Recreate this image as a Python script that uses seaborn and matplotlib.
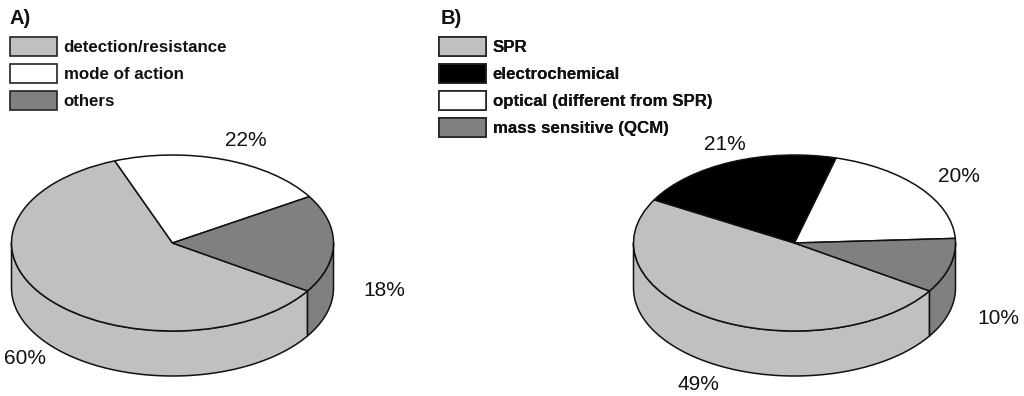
import numpy as np
import matplotlib
matplotlib.use("Agg")
import matplotlib.pyplot as plt
from matplotlib.patches import Patch
import seaborn as sns

labels_a = ["detection/resistance", "mode of action", "others"]
values_a = [60, 22, 18]
labels_b = ["SPR", "electrochemical", "optical (different from SPR)", "mass sensitive (QCM)"]
values_b = [49, 21, 20, 10]

LIGHT, DARK, BLACK, WHITE = "#c0c0c0", "#808080", "#000000", "#ffffff"
colors_a = sns.color_palette([LIGHT, WHITE, DARK])
colors_b = sns.color_palette([LIGHT, BLACK, WHITE, DARK])

W, H = 1024, 396
RY, DEPTH = 88, 45

sns.set_theme(style="white")
plt.rcParams["font.family"] = ["Liberation Sans", "DejaVu Sans"]


def pie3d(left, values, colors, start=-33):
    # pie box in pixels: rx 161, top face 155-331, wall down to 376
    ax = fig.add_axes([left / W, 1 - 376 / H, 322 / W, 221 / H])
    depth = DEPTH / RY
    a0 = start
    for v, c in zip(values, colors):
        a1 = a0 - 3.6 * v
        for off in (0, -360):
            lo, hi = max(a1, off - 180), min(a0, off)
            if hi <= lo:
                continue
            t = np.radians(np.linspace(lo, hi, 80))
            x, y = np.cos(t), np.sin(t)
            ax.fill(np.r_[x, x[::-1]], np.r_[y, y[::-1] - depth], facecolor=c,
                    edgecolor="#111111", linewidth=1.1, clip_on=False)
        a0 = a1
    wedges, _ = ax.pie(values, colors=colors, startangle=start, counterclock=False,
                       wedgeprops=dict(edgecolor="#111111", linewidth=1.1))
    for w in wedges:
        w.set_clip_on(False)
    ax.set_aspect("auto")
    ax.set_xlim(-1, 1)
    ax.set_ylim(-1 - depth, 1)
    ax.axis("off")


def add_legend(x, labels, colors):
    handles = [Patch(facecolor=c, edgecolor="#222222", linewidth=1.2) for c in colors]
    top.add_artist(top.legend(
        handles, labels, loc="upper left", bbox_to_anchor=(x, 37.5),
        bbox_transform=top.transData, frameon=False, borderpad=0, borderaxespad=0,
        prop=dict(size=12.2, weight="bold"), labelcolor="#111111",
        handlelength=2.75, handleheight=1.3, handletextpad=0.42, labelspacing=0.5,
    ))


fig = plt.figure(figsize=(W / 100, H / 100), dpi=100, facecolor="white")
pie3d(11.5, values_a, colors_a)
pie3d(633.5, values_b, colors_b)

# pixel coordinates overlay for the text
top = fig.add_axes([0, 0, 1, 1])
top.set_xlim(0, W)
top.set_ylim(H, 0)
top.axis("off")

add_legend(10, labels_a, colors_a)
add_legend(439, labels_b, colors_b)

top.text(9, 18, "A)", fontsize=14.5, fontweight="bold", color="#111111", va="center")
top.text(441, 18, "B)", fontsize=14.5, fontweight="bold", color="#111111", va="center")

for x, y, v in zip([25, 246, 384], [359, 141, 291], values_a):
    top.text(x, y, f"{v}%", fontsize=15, color="#111111", ha="center", va="center")
for x, y, v in zip([698, 725, 959, 998], [384, 145, 177, 319], values_b):
    top.text(x, y, f"{v}%", fontsize=15, color="#111111", ha="center", va="center")

fig.savefig("out.png", dpi=100)
